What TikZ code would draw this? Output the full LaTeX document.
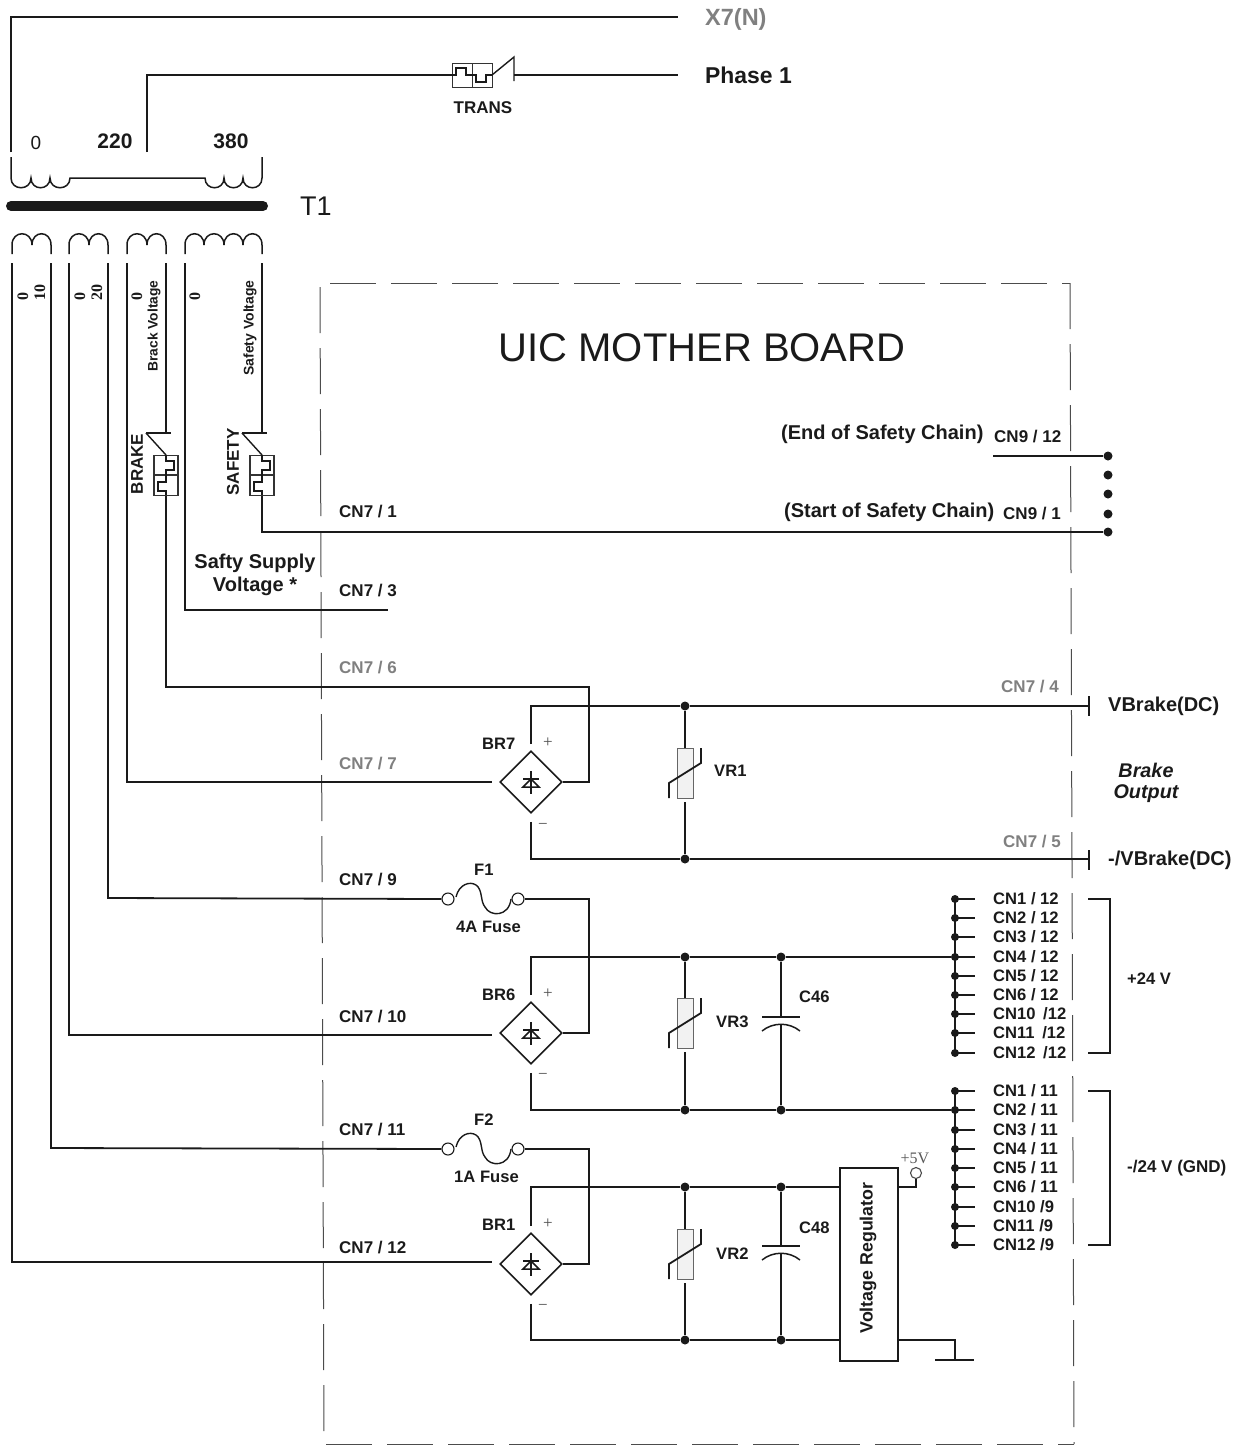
\documentclass[tikz,border=0pt]{standalone}
\usepackage{fontspec}
\setmainfont{Liberation Sans}
\newfontfamily\serf{Liberation Serif}
\usetikzlibrary{shapes.geometric,calc}
\definecolor{ink}{HTML}{1A1A1A}
\definecolor{soft}{HTML}{808080}
\newcommand\fs[1]{\fontsize{#1}{#1}\selectfont}
\newcommand\humpdn[2]{.. controls (#1,191) and (#2,191) .. (#2,178)}
\newcommand\humpup[2]{.. controls (#1,230) and (#2,230) .. (#2,245)}
\tikzset{
 wire/.style={draw=ink,line width=1.8pt},
 thinw/.style={draw=ink,line width=1.4pt},
 frame/.style={draw=black!70,line width=1pt,dash pattern=on 46pt off 15pt},
 lab/.style={inner sep=0pt,anchor=west,text=ink,font=\bfseries\fs{16.6}},
 cn/.style={lab,font=\bfseries\fs{17}},
 glab/.style={cn,text=soft},
 clab/.style={inner sep=0pt,anchor=west,text=ink,font=\bfseries\fs{16.6}},
 big/.style={inner sep=0pt,anchor=west,text=ink,font=\bfseries\fs{20}},
 dot/.style={circle,fill=ink,inner sep=0pt,minimum size=9pt},
 hole/.style={circle,draw=ink,fill=white,line width=1.1pt,inner sep=0pt,minimum size=12pt},
 bridge/.style={diamond,draw=ink,line width=1.6pt,inner sep=0pt,minimum width=62pt,minimum height=62pt,aspect=1},
 sign/.style={inner sep=0pt,text=black!70,font=\serf\fs{17}},
 vtext/.style={inner sep=0pt,text=ink,rotate=90}
}
\newcommand\relayv[3]{%
 \node[draw=black!80,line width=1.2pt,minimum width=24pt,minimum height=40pt,inner sep=0pt,anchor=north] (#3) at (#1,#2) {};
 \draw[black!80,line width=1.2pt] (#1-12,#2+20) -- (#1+12,#2+20);
 \draw[thinw,line width=1.2pt] (#1,#2) -- (#1,#2+6) -- (#1+8,#2+6) -- (#1+8,#2+15) -- (#1,#2+15) -- (#1,#2+20) -- (#1,#2+27) -- (#1-8,#2+27) -- (#1-8,#2+36) -- (#1,#2+36) -- (#1,#2+40);
 \draw[thinw] (#1-20,#2-22) -- (#1+5,#2-22);
 \draw[thinw] (#1-20,#2-22) -- (#1,#2);
}
\newcommand\diodemark[1]{%
 \draw[ink,line width=1.5pt] ($(#1)+(0,-11)$) -- ($(#1)+(0,12)$);
 \draw[ink,line width=1.5pt] ($(#1)+(-8,-3)$) -- ($(#1)+(8,-3)$);
 \draw[ink,line width=1.5pt] ($(#1)+(0,-3)$) -- ($(#1)+(-8,5)$) -- ($(#1)+(8,5)$) -- cycle;
}
\newcommand\varistor[4]{%
 \draw[draw=black!60,fill=black!5,line width=1pt] (#1-8,#2) rectangle (#1+8,#2+50);
 \draw[wire] (#3) -- (#1,#2);
 \draw[wire] (#1,#2+54) -- (#4);
 \draw[wire] (#1-16,#2+50) -- (#1-16,#2+35) -- (#1+16,#2+15) -- (#1+16,#2);
}
\newcommand\capac[4]{%
 \draw[wire] (#3) -- (#1,#2);
 \draw[wire] (#1-19,#2) -- (#1+19,#2);
 \draw[wire,line width=1.5pt] (#1-19,#2+14) .. controls (#1-8,#2+5) and (#1+8,#2+5) .. (#1+19,#2+14);
 \draw[wire] (#1,#2+8) -- (#4);
}
\newcommand\fuse[2]{%
 \node[hole] (#2a) at (448,#1) {};
 \node[hole] (#2b) at (518,#1) {};
 \draw[thinw] (456,#1-2) .. controls (459,#1-15) and (470,#1-18) .. (476,#1-14) .. controls (483,#1-9) and (480,#1+2) .. (485,#1+8) .. controls (490,#1+18) and (509,#1+18) .. (511,#1);
}
\begin{document}
\begin{tikzpicture}[x=1pt,y=-1pt]
\useasboundingbox (0,0) rectangle (1240,1449);
% frame
\coordinate (fa) at (320,287); \coordinate (fb) at (324,1445);
\coordinate (fc) at (330,283); \coordinate (fd) at (1070,283);
\coordinate (fe) at (1074,1444); \coordinate (ff) at (326,1444);
\draw[frame] (fa) -- (fb);
\draw[frame] (fc) -- (fd);
\draw[frame] (fd) -- (fe);
\draw[frame] (ff) -- (fe);
% primary
\coordinate (x7) at (678,17); \coordinate (ph) at (678,75);
\draw[wire] (11,152) -- (11,17) -- (x7);
\draw[wire] (147,152) -- (147,75) -- (452,75);
\draw[wire] (514,75) -- (ph);
\node[draw=black!80,line width=1.2pt,inner sep=0pt,minimum width=20pt,minimum height=24pt,anchor=north west] (tra) at (452,63) {};
\node[draw=black!80,line width=1.2pt,inner sep=0pt,minimum width=20pt,minimum height=24pt,anchor=north west] (trb) at (472,63) {};
\draw[thinw,line width=1.2pt] (452,75) -- (456,75) -- (456,68) -- (466,68) -- (466,75) -- (476,75) -- (476,82) -- (486,82) -- (486,75) -- (492,75);
\draw[thinw] (492,75) -- (514,57) -- (514,81);
\draw[wire,line width=1.5pt] (262,157) -- (262,178) \humpdn{262}{243} \humpdn{243}{224} \humpdn{224}{205} -- (70,178) \humpdn{70}{50} \humpdn{50}{31} \humpdn{31}{11} -- (11,157);
\draw[ink,line width=10pt,line cap=round] (11,206) -- (263,206);
% secondaries
\draw[wire,line width=1.5pt] (12,254) -- (12,245) \humpup{12}{32} \humpup{32}{51} -- (51,254);
\draw[wire,line width=1.5pt] (69,254) -- (69,245) \humpup{69}{89} \humpup{89}{108} -- (108,254);
\draw[wire,line width=1.5pt] (127,254) -- (127,245) \humpup{127}{147} \humpup{147}{166} -- (166,254);
\draw[wire,line width=1.5pt] (185,254) -- (185,245) \humpup{185}{204} \humpup{204}{224} \humpup{224}{243} \humpup{243}{262} -- (262,254);
% relays
\relayv{166}{455}{rbrake}
\relayv{262}{455}{rsafe}
% bridges
\node[bridge] (br7) at (531,782) {};
\node[bridge] (br6) at (531,1033) {};
\node[bridge] (br1) at (531,1264) {};
\diodemark{br7}\diodemark{br6}\diodemark{br1}
% junctions
\foreach \n/\x/\y in {j1/685/706,j2/685/859,j3/685/957,j4/781/957,j5/685/1110,j6/781/1110,j7/685/1187,j8/781/1187,j9/685/1340,j10/781/1340,s0/1108/456,s1/1108/475,s2/1108/494,s3/1108/514,s4/1108/532}
 {\node[dot] (\n) at (\x,\y) {};}
% regulator
\node[draw=ink,line width=1.8pt,minimum width=58pt,minimum height=193pt,inner sep=0pt,anchor=north west] (reg) at (839,1167) {};
\node[vtext,font=\bfseries\fs{17.8}] (regt) at (868,1258) {Voltage Regulator};
\node[hole,minimum size=11pt,draw=black!70] (v5) at (916,1173) {};
\node[inner sep=0pt,text=black!65,font=\serf\fs{16}] (v5t) at (915,1158) {+5V};
% fuses
\fuse{899}{fo}
\fuse{1149}{ft}
% connector buses
\foreach \y [count=\i] in {899,918,937,957,976,995,1014,1033,1053}
 {\node[dot,minimum size=8pt] (a\i) at (955,\y) {};
  \draw[thinw] (a\i.center) -- (975,\y);}
\foreach \y [count=\i] in {1091,1110,1130,1149,1168,1187,1207,1226,1245}
 {\node[dot,minimum size=8pt] (b\i) at (955,\y) {};
  \draw[thinw] (b\i.center) -- (975,\y);}
\draw[wire] (a1.center) -- (a9.center);
\draw[wire] (b1.center) -- (b9.center);
% secondary wiring
\coordinate (cn12) at ($(br1.west)+(-7,-2)$);
\coordinate (cn10) at ($(br6.west)+(-7,2)$);
\coordinate (cn7) at ($(br7.west)+(-7,0)$);
\draw[wire] (12,263) -- (12,1262) -- (cn12);
\draw[wire] (51,263) -- (51,1148) -- (fta.west);
\draw[wire] (69,263) -- (69,1035) -- (cn10);
\draw[wire] (108,263) -- (108,898) -- (foa.west);
\draw[wire] (127,263) -- (127,782) -- (cn7);
\draw[wire] (166,263) -- (166,433);
\draw[wire] (rbrake.south) -- (166,687) -- (589,687) -- (589,782) -- (br7.east);
\draw[wire] (185,263) -- (185,610) -- (388,610);
\draw[wire] (262,263) -- (262,433);
\draw[wire] (rsafe.south) -- (262,532) -- (s4);
\draw[wire] (993,456) -- (s0);
\draw[wire] (fob.east) -- (589,899) -- (589,1033) -- (br6.east);
\draw[wire] (ftb.east) -- (589,1149) -- (589,1264) -- (br1.east);
% rails
\coordinate (t7) at ($(br7.north)+(0,-6)$); \coordinate (u7) at ($(br7.south)+(0,8)$);
\coordinate (t6) at ($(br6.north)+(0,-6)$); \coordinate (u6) at ($(br6.south)+(0,8)$);
\coordinate (t1) at ($(br1.north)+(0,-6)$); \coordinate (u1) at ($(br1.south)+(0,8)$);
\draw[wire] (t7) -- (531,706) -- (j1) -- (1089,706);
\draw[wire] (u7) -- (531,859) -- (j2) -- (1089,859);
\draw[wire] (1089,696) -- (1089,716);
\draw[wire] (1089,850) -- (1089,870);
\draw[wire] (t6) -- (531,957) -- (j3) -- (j4) -- (a4);
\draw[wire] (u6) -- (531,1110) -- (j5) -- (j6) -- (b2);
\draw[wire] (t1) -- (531,1187) -- (j7) -- (j8) -- (839,1187);
\draw[wire] (u1) -- (531,1340) -- (j9) -- (j10) -- (839,1340);
\draw[wire] (897,1187) -- (916,1187) -- (v5);
\draw[wire] (897,1340) -- (955,1340) -- (955,1360);
\draw[wire] (935,1360) -- (955,1360);
\draw[ink,line width=2.4pt] (955,1360) -- (974,1360);
% parts on the rails
\varistor{685}{748}{j1}{j2}
\varistor{685}{998}{j3}{j5}
\varistor{685}{1229}{j7}{j9}
\capac{781}{1017}{j4}{j6}
\capac{781}{1246}{j8}{j10}
% brackets
\draw[wire] (1088,899) -- (1110,899) -- (1110,1053) -- (1088,1053);
\draw[wire] (1088,1091) -- (1110,1091) -- (1110,1245) -- (1088,1245);
% signs
\foreach \n/\x/\y/\t in {p7/548/743/+,p6/548/994/+,p1/548/1224/+,m7/543/826/\textminus,m6/543/1076/\textminus,m1/543/1307/\textminus}
 {\node[sign] (\n) at (\x,\y) {\t};}
% top labels
\node[inner sep=0pt,anchor=west,text=soft,font=\bfseries\fs{23.5}] (lx7) at (705,19) {X7(N)};
\node[inner sep=0pt,anchor=west,text=ink,font=\bfseries\fs{22.9}] (lph) at (705,75) {Phase 1};
\node[inner sep=0pt,text=ink,font=\bfseries\fs{17}] (ltr) at (483,108) {TRANS};
\node[inner sep=0pt,text=ink,font=\fs{19}] (l0) at (36,143) {0};
\node[inner sep=0pt,text=ink,font=\bfseries\fs{21}] (l220) at (115,141) {220};
\node[inner sep=0pt,text=ink,font=\bfseries\fs{21}] (l380) at (231,141) {380};
\node[inner sep=0pt,anchor=west,text=ink,font=\fs{27}] (lt1) at (300,206) {T1};
\node[inner sep=0pt,text=ink,font=\fs{40}] (ltitle) at (702,348) {UIC MOTHER BOARD};
% rotated
\node[vtext,font=\serf\bfseries\fs{16}] (r1) at (23,296) {0};
\node[vtext,font=\serf\bfseries\fs{16}] (r2) at (40,292) {10};
\node[vtext,font=\serf\bfseries\fs{16}] (r3) at (80,296) {0};
\node[vtext,font=\serf\bfseries\fs{16}] (r4) at (97,292) {20};
\node[vtext,font=\serf\bfseries\fs{16}] (r5) at (137,296) {0};
\node[vtext,font=\serf\bfseries\fs{16}] (r6) at (195,296) {0};
\node[vtext,font=\bfseries\fs{13.8}] (r7) at (154,326) {Brack Voltage};
\node[vtext,font=\bfseries\fs{14}] (r8) at (250,328) {Safety Voltage};
\node[vtext,font=\bfseries\fs{17}] (r9) at (137,464) {BRAKE};
\node[vtext,font=\bfseries\fs{17}] (r10) at (233,462) {SAFETY};
% CN7 labels
\node[cn] (c1) at (339,512) {CN7 / 1};
\node[cn] (c3) at (339,591) {CN7 / 3};
\node[glab] (c6) at (339,668) {CN7 / 6};
\node[glab] (c7) at (339,764) {CN7 / 7};
\node[cn] (c9) at (339,879) {CN7 / 9};
\node[cn] (c10) at (339,1016) {CN7 / 10};
\node[cn] (c11) at (339,1129) {CN7 / 11};
\node[cn] (c12) at (339,1247) {CN7 / 12};
\node[glab] (c4) at (1001,687) {CN7 / 4};
\node[glab] (c5) at (1003,841) {CN7 / 5};
\node[cn] (c91) at (1003,514) {CN9 / 1};
\node[cn] (c912) at (994,437) {CN9 / 12};
\node[big] (lend) at (781,434) {(End of Safety Chain)};
\node[big] (lsta) at (784,512) {(Start of Safety Chain)};
\node[big,anchor=center,align=center] (lsup) at (255,575) {Safty Supply\\[3pt]Voltage *};
\node[big] (lvb) at (1108,706) {VBrake(DC)};
\node[big] (lvn) at (1108,860) {-/VBrake(DC)};
\node[big,anchor=center,font=\bfseries\itshape\fs{19.8},align=center] (lbo) at (1146,783) {Brake\\[1pt]Output};
\node[lab] (lvr1) at (714,771) {VR1};
\node[lab] (lvr3) at (716,1022) {VR3};
\node[lab] (lvr2) at (716,1254) {VR2};
\node[lab] (lc46) at (799,997) {C46};
\node[lab] (lc48) at (799,1228) {C48};
\node[lab] (lb7) at (482,744) {BR7};
\node[lab] (lb6) at (482,995) {BR6};
\node[lab] (lb1) at (482,1225) {BR1};
\node[lab] (lf1) at (474,870) {F1};
\node[lab] (lf2) at (474,1120) {F2};
\node[lab] (l4a) at (456,927) {4A Fuse};
\node[lab] (l1a) at (454,1177) {1A Fuse};
\foreach \y/\t [count=\i] in {899/{CN1 / 12},918/{CN2 / 12},937/{CN3 / 12},957/{CN4 / 12},976/{CN5 / 12},995/{CN6 / 12},1014/{CN10\hspace{3pt} /12},1033/{CN11\hspace{3pt} /12},1053/{CN12\hspace{3pt} /12}}
 {\node[clab] (ca\i) at (993,\y) {\t};}
\foreach \y/\t [count=\i] in {1091/{CN1 / 11},1110/{CN2 / 11},1130/{CN3 / 11},1149/{CN4 / 11},1168/{CN5 / 11},1187/{CN6 / 11},1207/{CN10 /9},1226/{CN11 /9},1245/{CN12 /9}}
 {\node[clab] (cb\i) at (993,\y) {\t};}
\node[lab] (lp24) at (1127,979) {+24 V};
\node[cn] (lm24) at (1127,1168) {-/24 V (GND)};
\end{tikzpicture}
\end{document}
